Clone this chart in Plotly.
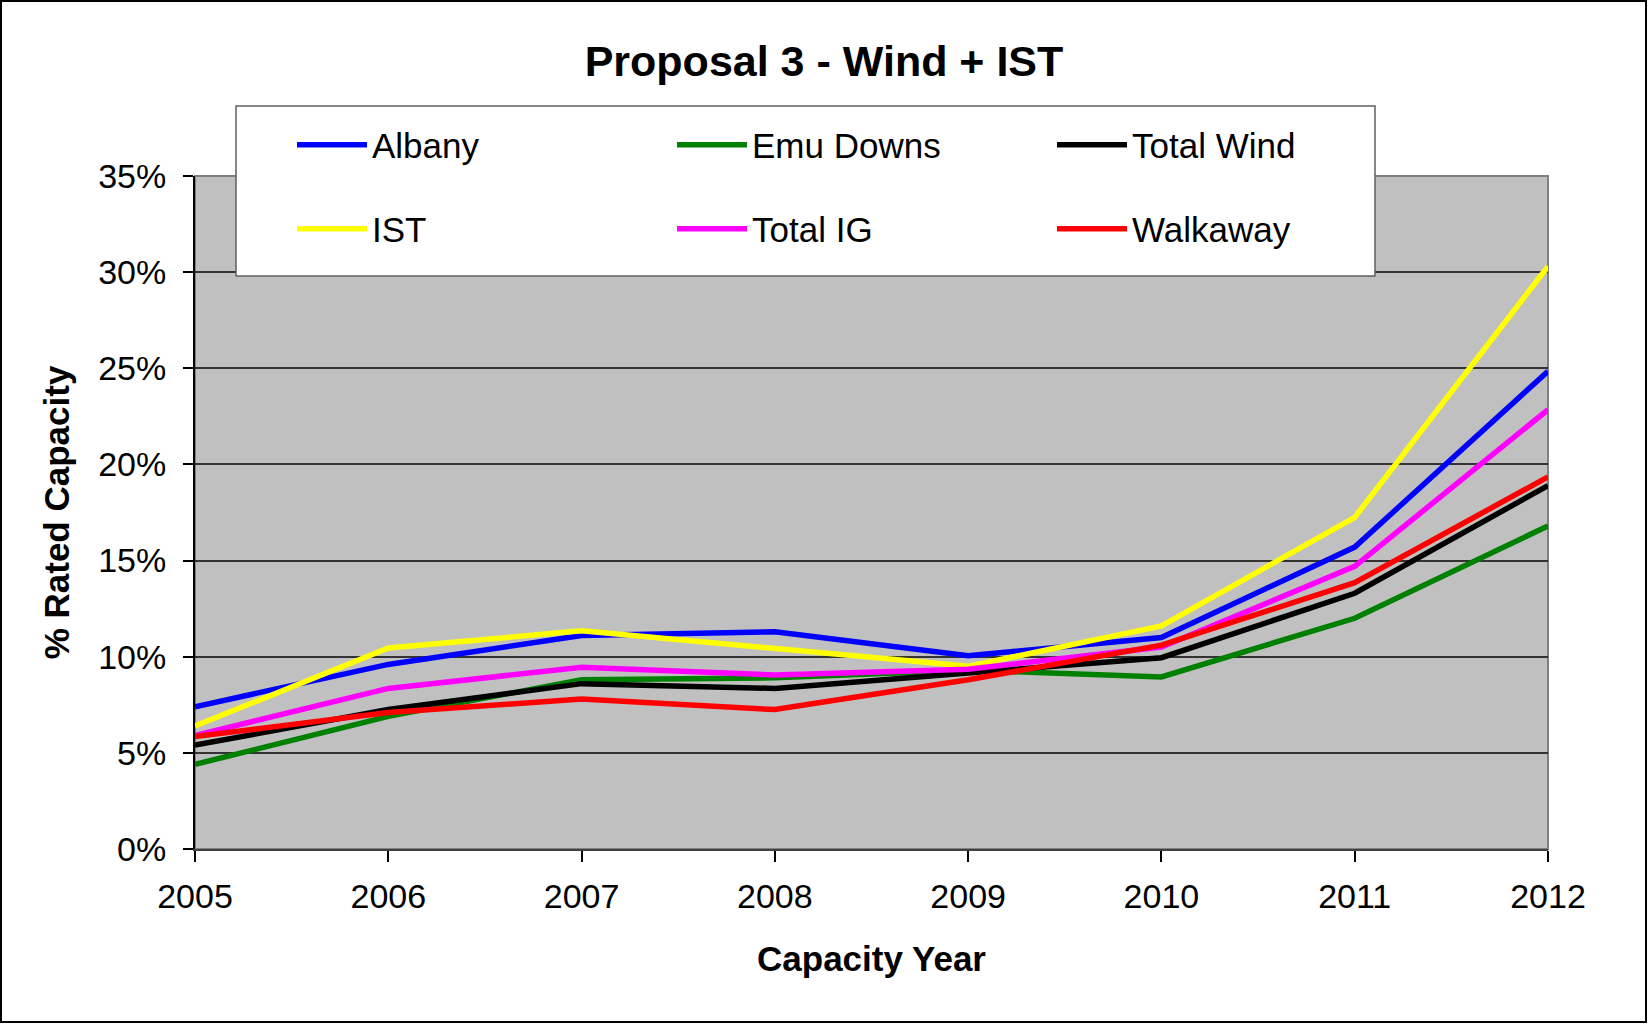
import plotly.graph_objects as go

years = [2005, 2006, 2007, 2008, 2009, 2010, 2011, 2012]
albany = [7.4, 9.6, 11.1, 11.3, 10.05, 11.0, 15.7, 24.85]
emu_downs = [4.4, 6.9, 8.8, 8.9, 9.3, 8.95, 12.0, 16.8]
total_wind = [5.4, 7.25, 8.6, 8.35, 9.15, 9.95, 13.3, 18.9]
ist = [6.4, 10.45, 11.35, 10.45, 9.5, 11.6, 17.25, 30.3]
total_ig = [5.9, 8.35, 9.45, 9.05, 9.35, 10.5, 14.7, 22.85]
walkaway = [5.85, 7.1, 7.8, 7.25, 8.8, 10.6, 13.85, 19.35]

series_names = ["Albany", "Emu Downs", "Total Wind", "IST", "Total IG", "Walkaway"]
series_values = [albany, emu_downs, total_wind, ist, total_ig, walkaway]
series_colors = ["#0000FF", "#008000", "#000000", "#FFFF00", "#FF00FF", "#FF0000"]
y_ticks = [0, 5, 10, 15, 20, 25, 30, 35]
y_tick_labels = [f"{v}%" for v in y_ticks]

W, H = 1648, 1024
L, R, T, B = 195, 100, 176, 175
PW, PH = W - L - R, H - T - B

def px_x(x):
    return (x - L) / PW

def px_y(y):
    return (H - B - y) / PH

FONT = "Liberation Sans, Arial, sans-serif"

fig = go.Figure()
for i, (name, vals, col) in enumerate(zip(series_names, series_values, series_colors)):
    fig.add_trace(go.Scatter(
        x=years, y=vals, name=name, mode="lines",
        line=dict(color=col, width=5.5),
        legend="legend" if i < 3 else "legend2",
    ))

legend_common = dict(
    orientation="h", bgcolor="rgba(0,0,0,0)", borderwidth=0,
    font=dict(family=FONT, size=35, color="black"),
    entrywidth=295, entrywidthmode="pixels", itemwidth=70,
    xanchor="left", yanchor="middle", traceorder="normal",
)

fig.update_layout(
    width=W, height=H,
    margin=dict(l=L, r=R, t=T, b=B, pad=0),
    paper_bgcolor="white", plot_bgcolor="#C0C0C0",
    font=dict(family=FONT, color="black"),
    title=dict(text="<b>Proposal 3 - Wind + IST</b>", x=0.5, xanchor="center",
               xref="container", y=1 - 61 / H, yanchor="middle", yref="container",
               font=dict(family=FONT, size=43, color="black")),
    legend=dict(x=px_x(292), y=px_y(145), **legend_common),
    legend2=dict(x=px_x(292), y=px_y(229), **legend_common),
    xaxis=dict(
        range=[2005, 2012], tickvals=years, ticktext=[str(y) for y in years],
        ticks="outside", ticklen=11, tickcolor="black", tickwidth=1.5,
        showline=True, linecolor="#404040", linewidth=2,
        showgrid=False, zeroline=False,
        tickfont=dict(family=FONT, size=34, color="black"),
        ticklabelstandoff=5,
        title=dict(text="<b>Capacity Year</b>", standoff=33,
                   font=dict(family=FONT, size=35, color="black")),
    ),
    yaxis=dict(
        range=[0, 35], tickvals=y_ticks, ticktext=y_tick_labels,
        ticks="outside", ticklen=10, tickcolor="black", tickwidth=1.5,
        showline=True, linecolor="#000000", linewidth=2,
        showgrid=True, gridcolor="#333333", gridwidth=1.5,
        zeroline=False,
        tickfont=dict(family=FONT, size=34, color="black"),
        ticklabelstandoff=10,
        title=dict(text="<b>% Rated Capacity</b>", standoff=18,
                   font=dict(family=FONT, size=35, color="black")),
    ),
    showlegend=True,
)

# plot-area border (top/right in grey)
fig.add_shape(type="rect", xref="paper", yref="paper", x0=0, x1=1, y0=0, y1=1,
              line=dict(color="#808080", width=2), layer="below")
# legend box
fig.add_shape(type="rect", xref="paper", yref="paper",
              x0=px_x(236), x1=px_x(1375), y0=px_y(276), y1=px_y(106),
              fillcolor="white", line=dict(color="#606060", width=1.5), layer="above")
# outer chart border
fig.add_shape(type="rect", xref="paper", yref="paper",
              x0=px_x(1), x1=px_x(W - 2), y0=px_y(H - 2), y1=px_y(1),
              line=dict(color="black", width=2), layer="above")

fig.write_html("out.html", config={"displayModeBar": False},
               post_script="document.body.style.margin='0';")
